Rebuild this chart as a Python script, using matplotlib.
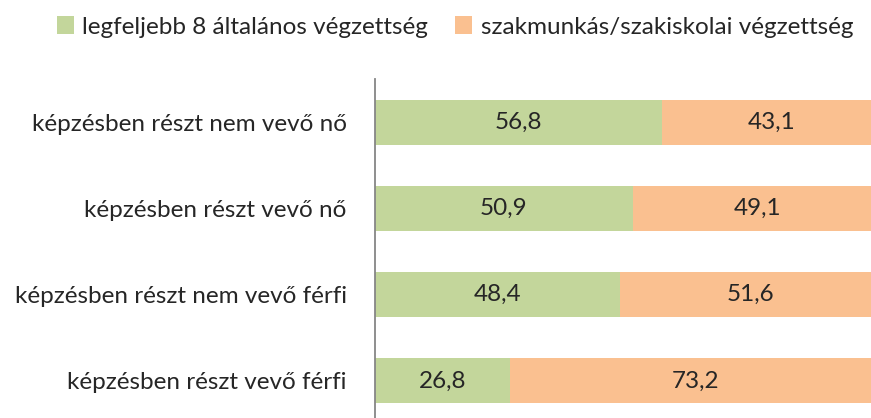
import matplotlib
matplotlib.use("Agg")
import matplotlib.pyplot as plt
from matplotlib.patches import Patch

categories = ["képzésben részt nem vevő nő", "képzésben részt vevő nő",
              "képzésben részt nem vevő férfi", "képzésben részt vevő férfi"]
series_names = ["legfeljebb 8 általános végzettség", "szakmunkás/szakiskolai végzettség"]
low_edu = [56.8, 50.9, 48.4, 26.8]
voc_edu = [43.1, 49.1, 51.6, 73.2]
colors = ["#C3D69B", "#FAC090"]
text_color = "#262626"

plt.rcParams['font.family'] = ['Lato', 'DejaVu Sans']

W, H = 871, 418
fig = plt.figure(figsize=(W / 100, H / 100), dpi=100)
ax = fig.add_axes([374.5 / W, -6 / H, 507 / W, 345 / H])

y = list(range(len(categories)))
ax.barh(y, low_edu, height=0.52, color=colors[0], label=series_names[0])
ax.barh(y, voc_edu, left=low_edu, height=0.52, color=colors[1], label=series_names[1])

fs = 17.5
for i in y:
    ax.text(low_edu[i] / 2, i, f"{low_edu[i]:.1f}".replace(".", ","), ha="center", va="center",
            fontsize=fs, color=text_color)
    ax.text(low_edu[i] + voc_edu[i] / 2, i, f"{voc_edu[i]:.1f}".replace(".", ","), ha="center",
            va="center", fontsize=fs, color=text_color)

ax.set_xlim(0, 100)
ax.set_ylim(3.5, -0.5)
ax.set_yticks(y)
ax.set_yticklabels(categories, fontsize=fs, color=text_color)
ax.tick_params(axis="y", length=0, pad=20)
ax.set_xticks([])
for s in ["top", "right", "bottom"]:
    ax.spines[s].set_visible(False)
ax.spines["left"].set_color("#868686")
ax.spines["left"].set_linewidth(1.3)

handles = [Patch(facecolor=c, edgecolor="none") for c in colors]
fig.legend(handles, series_names, loc="center", bbox_to_anchor=(455 / W, 1 - 27 / H),
           ncol=2, frameon=False, fontsize=fs, handlelength=0.7, handleheight=0.7,
           handletextpad=0.35, columnspacing=1.1, labelcolor=text_color)

fig.savefig("out.png", dpi=100)
